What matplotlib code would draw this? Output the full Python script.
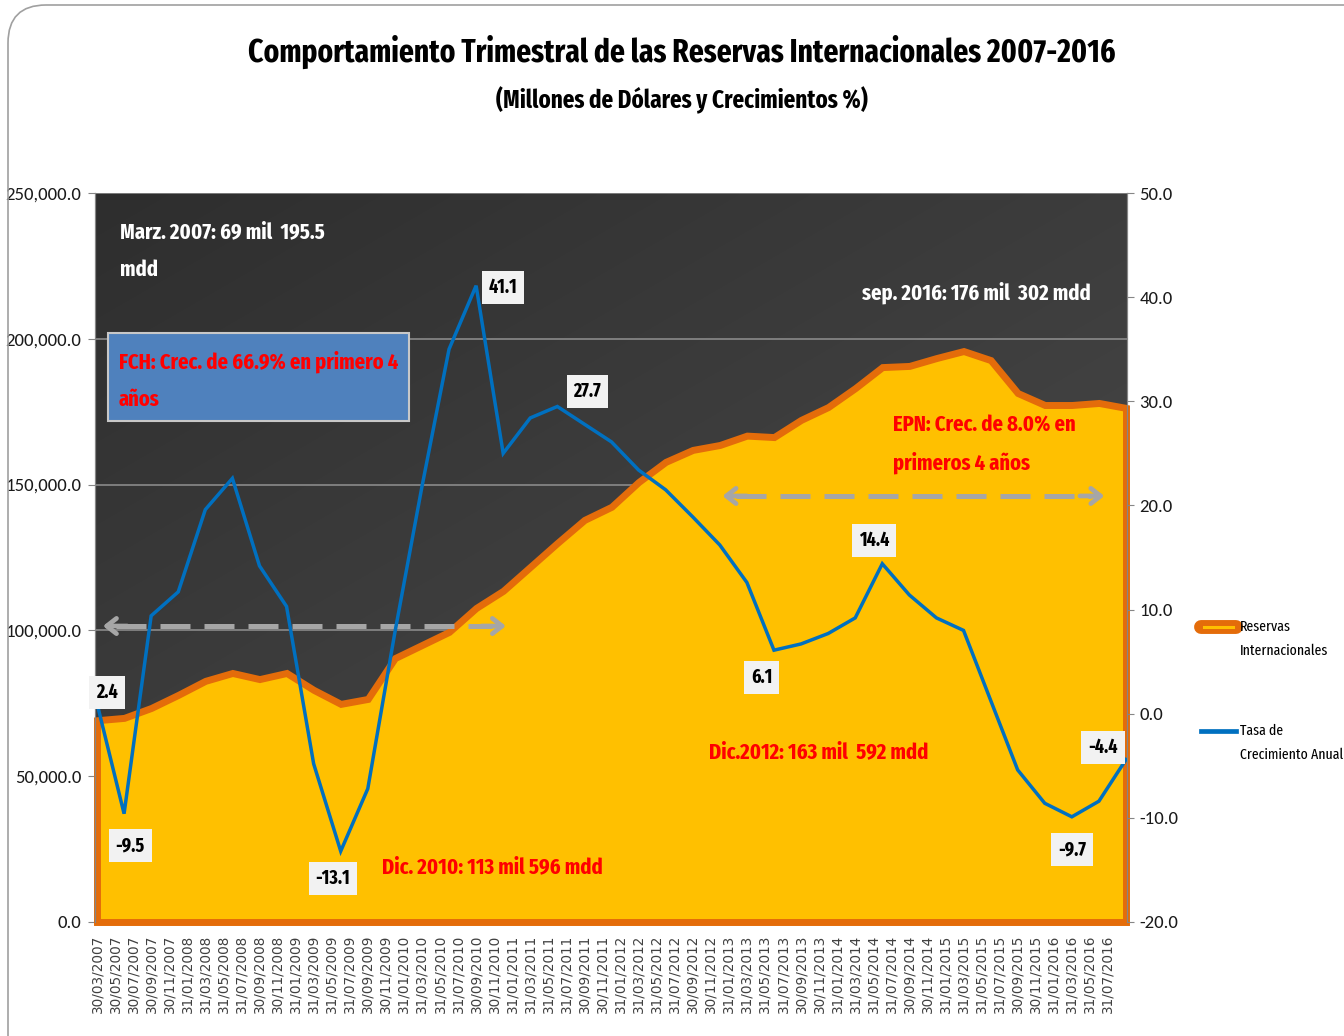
import numpy as np
import matplotlib
matplotlib.use("Agg")
import matplotlib.pyplot as plt
from matplotlib.colors import LinearSegmentedColormap
from matplotlib.lines import Line2D
from matplotlib.patches import FancyBboxPatch, Rectangle
from matplotlib.ticker import FuncFormatter, MultipleLocator
from matplotlib.transforms import IdentityTransform

W, H = 1344, 1036

# Reservas internacionales (millones de dólares), trimestral mar-2007 .. sep-2016
reservas = [69195.5, 70000, 73400, 77900, 82700, 85400, 83300, 85400, 79600, 74800,
            76500, 90500, 95000, 99500, 107700, 113596, 121800, 130000, 137900, 142400,
            150900, 157800, 161900, 163592, 166800, 166300, 172200, 176600, 183100, 190300,
            190700, 193400, 195800, 192700, 181400, 177300, 177300, 178000, 176302]

# Tasa de crecimiento anual (%)
crecimiento = [1.0, -9.6, 9.4, 11.7, 19.6, 22.6, 14.2, 10.3, -4.8, -13.2,
               -7.2, 7.8, 21.8, 35.0, 41.1, 25.0, 28.4, 29.5, 27.8, 26.1,
               23.4, 21.5, 18.9, 16.2, 12.6, 6.1, 6.7, 7.7, 9.2, 14.4,
               11.4, 9.2, 8.0, 1.3, -5.4, -8.6, -9.9, -8.4, -4.4]

# etiquetas de datos (índice del trimestre, texto)
etiq_idx = [0, 1, 9, 14, 17, 25, 29, 36, 38]
etiq_txt = ["2.4", "-9.5", "-13.1", "41.1", "27.7", "6.1", "14.4", "-9.7", "-4.4"]

# etiquetas del eje x (bimestrales)
fechas_2007 = ["30/03/2007", "30/05/2007", "30/07/2007", "30/09/2007", "30/11/2007"]
meses = ["31/01", "31/03", "31/05", "31/07", "30/09", "30/11"]
fechas = (fechas_2007
          + [f"{m}/{a}" for a in range(2008, 2016) for m in meses]
          + [f"{m}/2016" for m in meses[:4]])

plt.rcParams["font.family"] = ["Carlito", "DejaVu Sans"]
ANGOSTA = ["Fira Sans Extra Condensed", "Carlito", "DejaVu Sans"]

NARANJA = "#E46C0A"
AMARILLO = "#FFC000"
AZUL = "#0070C0"
GRIS_FLECHA = "#A6A6A6"


def px(x, y):
    """pixel (desde arriba-izquierda) -> fracción de figura"""
    return x / W, 1 - y / H


fig = plt.figure(figsize=(W / 100, H / 100), dpi=100)
fig.patch.set_facecolor("white")

# marco redondeado de la diapositiva
marco = FancyBboxPatch((8, -120), 1500, H - 5 + 120, boxstyle="round,pad=0,rounding_size=38",
                       transform=IdentityTransform(), fc="none", ec="#A0A0A0", lw=1.2,
                       clip_on=False)
fig.add_artist(marco)

l, b = px(95, 922)
r, t = px(1127, 193)
ax = fig.add_axes([l, b, r - l, t - b])
ax2 = ax.twinx()

x = np.arange(len(reservas))

# fondo oscuro con degradado
n = 200
ii, jj = np.mgrid[0:n, 0:n] / (n - 1)
grad = 0.45 * jj + 0.55 * ii
cmap_fondo = LinearSegmentedColormap.from_list("fondo", ["#2E2E2E", "#4E4E4E"])
ax.imshow(grad, cmap=cmap_fondo, extent=[0, 1, 0, 1], transform=ax.transAxes,
          aspect="auto", zorder=0, interpolation="bilinear")

ax.set_axisbelow(True)
ax.grid(axis="y", color="#8A8A8A", lw=1.2)
ax.grid(axis="x", visible=False)

ax.fill_between(x, 0, reservas, facecolor=AMARILLO, edgecolor=NARANJA, lw=5,
                joinstyle="miter", zorder=2, clip_on=False)

ax.set_xlim(-2 / 27.08, 38 + 1 / 27.08)
ax.set_ylim(0, 250000)
ax.yaxis.set_major_locator(MultipleLocator(50000))
ax.yaxis.set_major_formatter(FuncFormatter(lambda v, p: f"{v:,.1f}"))

ax.set_xticks(np.arange(len(fechas)) * 2 / 3)
ax.set_xticklabels(fechas, rotation=90, family="DejaVu Sans", fontsize=9.8, color="#404040")
ax.tick_params(axis="x", length=0, pad=9)
ax.tick_params(axis="y", length=5, color="#868686", labelsize=13.5, labelcolor="#1A1A1A", pad=5)

ax2.plot(x, crecimiento, color=AZUL, lw=2.5, zorder=5, solid_joinstyle="miter")
ax2.set_ylim(-20, 50)
ax2.yaxis.set_major_locator(MultipleLocator(10))
ax2.yaxis.set_major_formatter(FuncFormatter(lambda v, p: f"{v:.1f}"))
ax2.tick_params(axis="y", length=5, color="#868686", labelsize=13.5, labelcolor="#1A1A1A", pad=4)

for a in (ax, ax2):
    a.spines["top"].set_visible(False)
    a.spines["bottom"].set_visible(False)
    a.spines["left"].set_color("#868686")
    a.spines["right"].set_color("#868686")

# etiquetas de datos
desplaz = {0: (10, 11), 1: (6, -32), 9: (-8, -27), 14: (27, -2), 17: (30, 15),
           25: (-12, -27), 29: (-8, 23), 36: (0, -33), 38: (-23, 12)}
for i, txt in zip(etiq_idx, etiq_txt):
    ax2.annotate(txt, (x[i], crecimiento[i]), xytext=desplaz[i], textcoords="offset pixels",
                 ha="center", va="center", fontsize=14, fontweight="bold", color="black",
                 family=ANGOSTA, zorder=8, annotation_clip=False,
                 bbox=dict(boxstyle="square,pad=0.35", fc="#F2F2F2", ec="none"))


# flechas punteadas de los sexenios
def flecha(x0, x1, y):
    ax.plot([x0 + 0.5, x1 - 0.5], [y, y], color=GRIS_FLECHA, lw=3.6, dashes=(6, 2.8),
            zorder=4, solid_capstyle="butt")
    for a_, b_ in ((x0 + 0.9, x0), (x1 - 0.9, x1)):
        ax.annotate("", xy=(b_, y), xytext=(a_, y), zorder=4,
                    arrowprops=dict(arrowstyle="->,head_length=0.7,head_width=0.55",
                                    color=GRIS_FLECHA, lw=3.4, shrinkA=0, shrinkB=0))


flecha(0.22, 15.1, 101500)
flecha(23.1, 37.2, 146100)

# caja azul FCH
bx0, by0 = px(108, 421)
bx1, by1 = px(409, 333)
fig.add_artist(Rectangle((bx0, by0), bx1 - bx0, by1 - by0, transform=fig.transFigure,
                         fc="#4F81BD", ec="#C8C8C8", lw=1.5, zorder=6))

textos = [
    ("Marz. 2007: 69 mil  195.5", 120, 232, "white"),
    ("mdd", 120, 270, "white"),
    ("sep. 2016: 176 mil  302 mdd", 862, 293, "white"),
    ("FCH: Crec. de 66.9% en primero 4", 119, 362, "#FF0000"),
    ("años", 119, 400, "#FF0000"),
    ("EPN: Crec. de 8.0% en", 893, 425, "#FF0000"),
    ("primeros 4 años", 893, 463, "#FF0000"),
    ("Dic.2012: 163 mil  592 mdd", 709, 752, "#FF0000"),
    ("Dic. 2010: 113 mil 596 mdd", 382, 867, "#FF0000"),
]
for s, tx, ty, c in textos:
    fig.text(*px(tx, ty), s, ha="left", va="center", fontsize=16, fontweight="bold",
             color=c, family=ANGOSTA, zorder=7)

# títulos
fig.text(*px(682, 52), "Comportamiento Trimestral de las Reservas Internacionales 2007-2016",
         ha="center", va="center", fontsize=23, fontweight="bold", color="black",
         family=ANGOSTA)
fig.text(*px(682, 100), "(Millones de Dólares y Crecimientos %)",
         ha="center", va="center", fontsize=18, fontweight="bold", color="black",
         family=ANGOSTA)

# leyenda
lx0, ly = px(1201, 627)
lx1, _ = px(1236, 627)
fig.add_artist(Line2D([lx0, lx1], [ly, ly], transform=fig.transFigure, color=NARANJA,
                      lw=10, solid_capstyle="round"))
fig.add_artist(Line2D([lx0 + 0.002, lx1 - 0.002], [ly, ly], transform=fig.transFigure,
                      color=AMARILLO, lw=2.2))
fig.text(*px(1240, 627), "Reservas", ha="left", va="center", fontsize=10.8, family=ANGOSTA)
fig.text(*px(1240, 651), "Internacionales", ha="left", va="center", fontsize=10.8, family=ANGOSTA)

_, ly2 = px(1200, 731)
fig.add_artist(Line2D([lx0, lx1], [ly2, ly2], transform=fig.transFigure, color=AZUL, lw=3.4))
fig.text(*px(1240, 731), "Tasa de", ha="left", va="center", fontsize=10.8, family=ANGOSTA)
fig.text(*px(1240, 755), "Crecimiento Anual", ha="left", va="center", fontsize=10.8, family=ANGOSTA)

fig.savefig("out.png", dpi=100)
